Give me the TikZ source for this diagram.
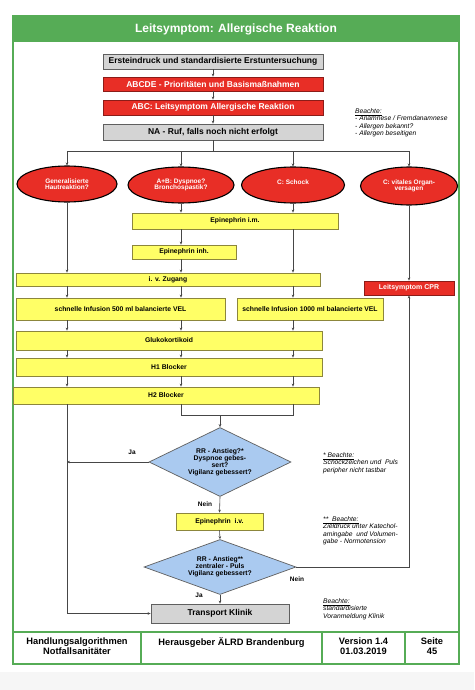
\documentclass[tikz,border=0pt]{standalone}
\usepackage{fontspec}
\setmainfont{Liberation Sans}
\usetikzlibrary{shapes.geometric,arrows.meta}

\definecolor{rahmengruen}{RGB}{86,172,86}
\definecolor{rotfill}{RGB}{232,46,38}
\definecolor{rotrand}{RGB}{140,28,24}
\definecolor{gelbfill}{RGB}{255,255,102}
\definecolor{gelbrand}{RGB}{140,134,60}
\definecolor{graufill}{RGB}{212,212,212}
\definecolor{graurand}{RGB}{95,95,95}
\definecolor{blaufill}{RGB}{170,202,240}
\definecolor{linie}{RGB}{70,70,70}

\tikzset{
  kasten/.style={rectangle, inner sep=0pt, line width=0.8pt, align=center,
    font=\bfseries\fontsize{8.5}{9.5}\selectfont},
  graukasten/.style={kasten, draw=graurand, fill=graufill},
  rotkasten/.style={kasten, draw=rotrand, fill=rotfill, text=white},
  gelbkasten/.style={kasten, draw=gelbrand, fill=gelbfill,
    font=\bfseries\fontsize{6.8}{7.8}\selectfont},
  oval/.style={ellipse, draw=black, line width=1.1pt, fill=rotfill, text=white,
    inner sep=0pt, align=center, font=\bfseries\fontsize{6.5}{6.6}\selectfont},
  raute/.style={diamond, draw=graurand, line width=0.7pt, fill=blaufill,
    inner sep=0pt, shape aspect=2, align=center,
    font=\bfseries\fontsize{6.8}{7}\selectfont},
  verbindung/.style={draw=linie, line width=0.6pt},
  pfeil/.style={verbindung, -{Stealth[length=3pt,width=2.6pt]}},
  hinweis/.style={anchor=north west, align=left, inner sep=0pt,
    font=\itshape\fontsize{6.7}{7.4}\selectfont},
  antwort/.style={inner sep=0pt, font=\bfseries\fontsize{6.5}{7}\selectfont},
  fusstext/.style={anchor=north, align=center, inner sep=0pt,
    font=\bfseries\fontsize{9.3}{10}\selectfont},
}

\begin{document}
\begin{tikzpicture}[x=1pt, y=-1pt]

  \useasboundingbox (0,0) rectangle (474,690);
  \fill[white] (0,0) rectangle (474,690);
  \fill[gray!7] (0,672) rectangle (474,690);

  % Rahmen und Titel
  \fill[rahmengruen] (13,16) rectangle (459,42);
  \draw[rahmengruen, line width=2pt] (13,16) rectangle (459,632);
  \node[text=white, font=\bfseries\fontsize{12}{14}\selectfont] (titel) at (236,29)
    {Leitsymptom: Allergische Reaktion};

  % Erstmassnahmen
  \node[graukasten, minimum width=220, minimum height=15] (erst) at (213,61.5)
    {Ersteindruck und standardisierte Erstuntersuchung};
  \node[rotkasten, minimum width=220, minimum height=14] (abcde) at (213,84)
    {ABCDE - Prioritäten und Basismaßnahmen};
  \node[rotkasten, minimum width=220, minimum height=15] (abc) at (213,107.5)
    {ABC: Leitsymptom Allergische Reaktion};
  \node[graukasten, minimum width=220, minimum height=16] (na) at (213,132)
    {NA - Ruf, falls noch nicht erfolgt};

  \node[hinweis] (hinweisa) at (355,108.5)
    {\underline{Beachte:}\\- Anamnese / Fremdanamnese\\- Allergen bekannt?\\- Allergen beseitigen};

  % Leitsymptome
  \node[oval, minimum width=100, minimum height=36] (e1) at (67,184)
    {Generalisierte\\Hautreaktion?};
  \node[oval, minimum width=106, minimum height=36] (e2) at (181,185)
    {A+B: Dyspnoe?\\Bronchospastik?};
  \node[oval, minimum width=103, minimum height=36] (e3) at (293,185)
    {C: Schock\\\mbox{}};
  \node[oval, minimum width=97, minimum height=38] (e4) at (409,186)
    {C: vitales Organ-\\versagen};

  % Medikamente
  \node[gelbkasten, minimum width=206, minimum height=16] (epim) at (235,221)
    {Epinephrin i.m.};
  \node[gelbkasten, minimum width=104, minimum height=14] (epinh) at (184,252)
    {Epinephrin inh.};
  \node[gelbkasten, minimum width=304, minimum height=13] (ivz) at (168,279.5)
    {i. v. Zugang};
  \node[rotkasten, minimum width=90, minimum height=14,
    font=\bfseries\fontsize{7}{8}\selectfont] (cpr) at (409,288)
    {Leitsymptom CPR};
  \node[gelbkasten, minimum width=209, minimum height=22] (inf500) at (120.5,309)
    {schnelle Infusion 500 ml balancierte VEL};
  \node[gelbkasten, minimum width=146, minimum height=22] (inf1000) at (310,309)
    {schnelle Infusion 1000 ml balancierte VEL};
  \node[gelbkasten, minimum width=306, minimum height=19] (gluko) at (169,340.5)
    {Glukokortikoid};
  \node[gelbkasten, minimum width=306, minimum height=18] (h1) at (169,367)
    {H1 Blocker};
  \node[gelbkasten, minimum width=306, minimum height=17] (h2) at (166,395.5)
    {H2 Blocker};

  % Entscheidungen
  \node[raute, minimum width=142, minimum height=69] (d1) at (220,462)
    {RR - Anstieg?*\\Dyspnoe gebes-\\sert?\\Vigilanz gebessert?};
  \node[gelbkasten, minimum width=87, minimum height=17] (epiv) at (219.5,521.5)
    {Epinephrin\ \ i.v.};
  \node[raute, minimum width=152, minimum height=55] (d2) at (220,567)
    {RR - Anstieg**\\zentraler - Puls\\Vigilanz gebessert?};
  \node[graukasten, minimum width=138, minimum height=19] (trans) at (220,613.5)
    {Transport Klinik};

  \node[hinweis] (hinweisb) at (323,452.5)
    {\underline{* Beachte:}\\Schockzeichen und\ \ Puls\\peripher nicht tastbar};
  \node[hinweis] (hinweisc) at (323,516.5)
    {\underline{** \ Beachte:}\\Zieldruck unter Katechol-\\amingabe\ \ und Volumen-\\gabe - Normotension};
  \node[hinweis] (hinweisd) at (323,598.5)
    {\underline{Beachte:}\\standardisierte\\Voranmeldung Klinik};

  \node[antwort] (ja1) at (132,452) {Ja};
  \node[antwort] (nein1) at (205,504) {Nein};
  \node[antwort] (nein2) at (297,579) {Nein};
  \node[antwort] (ja2) at (199,595) {Ja};

  % Verbindungen oben
  \draw[pfeil] (erst) -- (abcde);
  \draw[pfeil] (abcde) -- (abc);
  \draw[pfeil] (abc) -- (na);
  \coordinate (verteiler) at (213,151);
  \draw[verbindung] (na) -- (verteiler);
  \draw[verbindung] (e1.north |- verteiler) -- (e4.north |- verteiler);
  \foreach \e in {e1, e2, e3, e4} {
    \draw[pfeil] (\e.north |- verteiler) -- (\e.north);
  }

  % Spalte Haut
  \draw[pfeil] (e1) -- (ivz.north -| e1);
  \draw[pfeil] (ivz.south -| e1) -- (inf500.north -| e1);
  \draw[pfeil] (inf500.south -| e1) -- (gluko.north -| e1);
  \draw[pfeil] (gluko.south -| e1) -- (h1.north -| e1);
  \draw[pfeil] (h1.south -| e1) -- (h2.north -| e1);
  \draw[pfeil] (h2.south -| e1) |- (trans.west);

  % Spalte Dyspnoe
  \draw[pfeil] (e2) -- (epim.north -| e2);
  \draw[pfeil] (epim.south -| e2) -- (epinh.north -| e2);
  \draw[pfeil] (epinh.south -| e2) -- (ivz.north -| e2);
  \draw[pfeil] (ivz.south -| e2) -- (inf500.north -| e2);
  \draw[pfeil] (inf500.south -| e2) -- (gluko.north -| e2);
  \draw[pfeil] (gluko.south -| e2) -- (h1.north -| e2);
  \draw[pfeil] (h1.south -| e2) -- (h2.north -| e2);

  % Spalte Schock
  \draw[pfeil] (e3) -- (epim.north -| e3);
  \draw[pfeil] (epim.south -| e3) -- (ivz.north -| e3);
  \draw[pfeil] (ivz.south -| e3) -- (inf1000.north -| e3);
  \draw[pfeil] (inf1000.south -| e3) -- (gluko.north -| e3);
  \draw[pfeil] (gluko.south -| e3) -- (h1.north -| e3);
  \draw[pfeil] (h1.south -| e3) -- (h2.north -| e3);

  % Spalte Organversagen
  \draw[pfeil] (e4) -- (cpr.north -| e4);

  % Zusammenfuehrung und Entscheidungen
  \coordinate (sammel) at (220,415);
  \draw[verbindung] (h2.south -| e2) |- (sammel -| e3) -- (h2.south -| e3);
  \draw[pfeil] (sammel) -- (d1.north);
  \draw[pfeil] (d1.west) -- (d1.west -| e1);
  \draw[pfeil] (d1.south) -- (epiv.north);
  \draw[pfeil] (epiv.south) -- (d2.north);
  \draw[pfeil] (d2.south) -- (trans.north);
  \draw[pfeil] (d2.east) -| (cpr.south);

  % Fusszeile
  \draw[rahmengruen, line width=2pt] (13,632) rectangle (459,664);
  \foreach \x in {141, 322, 405} {
    \draw[rahmengruen, line width=2pt] (\x,632) -- (\x,664);
  }
  \node[fusstext] (fussa) at (77,637.5) {Handlungsalgorithmen\\Notfallsanitäter};
  \node[fusstext] (fussb) at (231.5,637.5) {Herausgeber ÄLRD Brandenburg};
  \node[fusstext] (fussc) at (363.5,637.5) {Version 1.4\\01.03.2019};
  \node[fusstext] (fussd) at (432,637.5) {Seite\\45};

\end{tikzpicture}
\end{document}
